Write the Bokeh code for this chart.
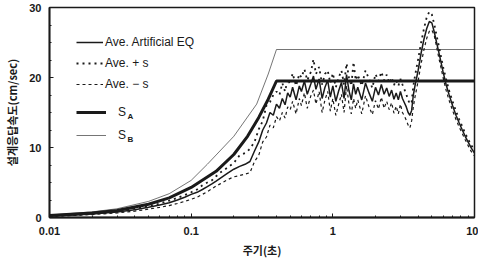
from bokeh.plotting import figure
from bokeh.models import Legend, LegendItem, Label, FixedTicker, Range1d
from bokeh.embed import file_html
from bokeh.resources import INLINE

# ---- design spectra (period s, velocity cm/sec) ----
sa_period = [0.01, 0.02, 0.03, 0.05, 0.07, 0.1, 0.15, 0.2, 0.25, 0.3, 0.35, 0.4, 10.0]
sa_value = [0.3, 0.65, 1.0, 1.9, 2.8, 4.3, 6.6, 9.0, 11.6, 14.3, 16.9, 19.5, 19.5]
sb_period = [0.01, 0.02, 0.03, 0.05, 0.07, 0.1, 0.13, 0.2, 0.29, 0.35, 0.4, 10.0]
sb_value = [0.35, 0.8, 1.25, 2.3, 3.4, 5.3, 7.6, 11.6, 16.2, 20.5, 24.0, 24.0]

# ---- average of artificial EQ and +/- s: rising part ----
period_rise = [0.01, 0.015, 0.02, 0.03, 0.04, 0.05, 0.06, 0.07, 0.08, 0.09,
               0.1, 0.11, 0.12, 0.13, 0.14, 0.15, 0.16, 0.18, 0.2, 0.22,
               0.24, 0.26, 0.28, 0.3, 0.32, 0.34, 0.36, 0.38]
ave_rise = [0.2, 0.35, 0.5, 0.8, 1.1, 1.45, 1.8, 2.1, 2.5, 2.9,
            3.3, 3.6, 4.0, 4.4, 4.8, 5.2, 5.6, 6.3, 6.9, 7.3,
            7.6, 8.0, 9.5, 10.8, 12.5, 13.5, 15.0, 14.6]
plus_rise = [0.2, 0.37, 0.55, 0.9, 1.25, 1.6, 2.0, 2.4, 2.8, 3.2,
             3.6, 4.0, 4.6, 5.0, 5.3, 5.9, 6.4, 7.1, 7.8, 8.9,
             9.2, 9.8, 10.8, 12.6, 13.8, 16.0, 16.5, 17.5]
minus_rise = [0.18, 0.3, 0.42, 0.65, 0.9, 1.2, 1.45, 1.7, 2.0, 2.3,
              2.6, 2.9, 3.3, 3.7, 4.1, 4.5, 4.8, 5.4, 5.8, 6.0,
              6.2, 6.4, 8.0, 8.9, 10.8, 11.5, 13.2, 12.8]

# ---- plateau band ----
period_band = [0.4, 0.42, 0.44, 0.46, 0.48,
               0.5, 0.52, 0.55, 0.58, 0.6,
               0.63, 0.66, 0.7, 0.73, 0.76,
               0.8, 0.84, 0.88, 0.92, 0.96,
               1.0, 1.05, 1.1, 1.15, 1.2,
               1.25, 1.3, 1.35, 1.4, 1.45,
               1.5, 1.6, 1.7, 1.8, 1.9,
               2.0, 2.1, 2.2, 2.3, 2.4,
               2.5, 2.6, 2.7, 2.8, 2.9,
               3.0, 3.1, 3.2, 3.3, 3.4,
               3.5]
ave_band = [16.2, 15.6, 17.0, 16.1, 17.8,
            17.2, 18.6, 16.8, 18.8, 18.0,
            19.5, 17.6, 19.1, 20.2, 18.3,
            19.8, 17.0, 18.6, 19.6, 17.2,
            18.8, 16.6, 18.1, 19.3, 17.0,
            20.4, 18.1, 16.8, 19.1, 17.6,
            18.6, 16.8, 19.2, 17.8, 16.6,
            18.6, 17.5, 19.0, 17.6, 18.5,
            17.3, 18.2, 16.9, 17.8, 16.8,
            18.0, 17.0, 16.4, 15.8, 15.0,
            14.6]
plus_band = [18.0, 17.5, 19.2, 18.0, 19.8,
             19.0, 20.6, 18.8, 20.5, 20.0,
             21.2, 19.6, 20.8, 22.6, 20.5,
             21.5, 19.0, 20.5, 21.0, 19.2,
             20.6, 18.6, 20.0, 21.0, 19.0,
             22.0, 20.0, 18.8, 22.2, 19.6,
             20.4, 18.8, 21.0, 19.8, 18.5,
             20.5, 19.5, 20.8, 19.6, 20.4,
             19.2, 20.0, 18.9, 19.6, 18.8,
             19.8, 19.0, 18.3, 17.6, 16.8,
             16.2]
minus_band = [14.4, 13.8, 15.0, 14.2, 15.8,
              15.4, 16.6, 14.8, 17.0, 16.0,
              17.8, 15.6, 17.4, 18.2, 16.2,
              18.0, 15.0, 16.8, 18.0, 15.2,
              17.0, 14.6, 16.2, 17.6, 15.0,
              18.8, 16.2, 14.8, 17.0, 15.6,
              16.8, 14.8, 17.4, 15.8, 14.7,
              16.7, 15.5, 17.2, 15.6, 16.6,
              15.4, 16.4, 14.9, 15.9, 14.8,
              16.2, 15.0, 14.5, 13.9, 13.2,
              12.8]

# ---- long-period peak ----
period_peak = [3.6, 3.7, 3.8, 4.0, 4.2, 4.4, 4.6, 4.8, 5.0, 5.2, 5.4, 5.6,
               5.8, 6.0, 6.3, 6.6, 7.0, 7.4, 7.8, 8.2, 8.6, 9.0, 9.5, 10.0]
ave_peak = [15.3, 17.5, 18.8, 21.0, 23.5, 25.5, 27.0, 28.0, 27.8, 26.5, 25.0, 23.6,
            22.2, 20.8, 19.0, 17.6, 16.0, 14.6, 13.5, 12.5, 11.6, 10.8, 9.9, 9.2]
plus_peak = [16.5, 18.8, 20.2, 22.6, 25.0, 27.0, 28.6, 29.4, 29.0, 27.6, 26.0, 24.5,
             23.0, 21.5, 19.8, 18.2, 16.6, 15.2, 14.0, 13.0, 12.0, 11.2, 10.3, 9.6]
minus_peak = [13.8, 15.8, 17.2, 19.5, 22.0, 24.0, 25.6, 26.6, 26.8, 26.0, 24.4, 22.8,
              21.4, 20.0, 18.2, 16.8, 15.3, 14.0, 12.9, 12.0, 11.1, 10.3, 9.4, 8.8]

x_ticks = [0.01, 0.1, 1, 10]
x_tick_labels = ["0.01", "0.1", "1", "10"]
y_ticks = [0, 10, 20, 30]

period = period_rise + period_band + period_peak
ave = ave_rise + ave_band + ave_peak
plus = plus_rise + plus_band + plus_peak
minus = minus_rise + minus_band + minus_peak

INK = "#1a1a1a"
FONT = "Liberation Sans"
KFONT = "Noto Sans CJK KR"

p = figure(width=478, height=261, x_axis_type="log",
           x_range=Range1d(0.01, 10), y_range=Range1d(0, 30),
           output_backend="svg", toolbar_location=None,
           min_border_left=49, min_border_right=4,
           min_border_top=7, min_border_bottom=44)
p.background_fill_color = "white"
p.border_fill_color = "white"
p.grid.visible = False
p.outline_line_color = INK
p.outline_line_width = 1.5

r_sb = p.line(sb_period, sb_value, line_color="#3a3a3a", line_width=0.7)
r_minus = p.line(period, minus, line_color=INK, line_width=1.2, line_dash="3 3")
r_plus = p.line(period, plus, line_color=INK, line_width=1.8, line_dash="2 4")
r_ave = p.line(period, ave, line_color=INK, line_width=1.5)
r_sa = p.line(sa_period, sa_value, line_color=INK, line_width=3)

minor_x = [m * d for d in (0.01, 0.1, 1) for m in range(2, 10)]
p.xaxis.ticker = FixedTicker(ticks=x_ticks, minor_ticks=minor_x)
p.xaxis.major_label_overrides = {t: s for t, s in zip(x_ticks, x_tick_labels)}
p.yaxis.ticker = FixedTicker(ticks=y_ticks, minor_ticks=[2.5 * i for i in range(13)])

for ax in (p.xaxis, p.yaxis):
    ax.axis_line_color = INK
    ax.axis_line_width = 1.8
    ax.major_tick_in = 4
    ax.major_tick_out = 0
    ax.minor_tick_in = 2
    ax.minor_tick_out = 0
    ax.major_tick_line_color = INK
    ax.minor_tick_line_color = INK
    ax.major_label_text_font = FONT
    ax.major_label_text_font_size = "11px"
    ax.major_label_text_font_style = "bold"
    ax.major_label_text_color = INK
    ax.axis_label_text_font = KFONT
    ax.axis_label_text_font_size = "11px"
    ax.axis_label_text_font_style = "bold"
    ax.axis_label_text_color = INK

p.xaxis.axis_label = "주기(초)"
p.xaxis.major_label_standoff = 9
p.xaxis.axis_label_standoff = 4
p.yaxis.axis_label = "설계응답속도(cm/sec)"
p.yaxis.major_label_standoff = 8
p.yaxis.axis_label_standoff = 6

common = dict(border_line_alpha=0, background_fill_alpha=0,
              label_text_font=FONT, label_text_font_size="12px", label_text_color=INK,
              padding=5, margin=0)
leg1 = Legend(items=[LegendItem(label="Ave. Artificial EQ", renderers=[r_ave]),
                     LegendItem(label="Ave. + s", renderers=[r_plus]),
                     LegendItem(label="Ave. − s", renderers=[r_minus])],
              location=(22, 119), label_standoff=2, glyph_width=27,
              label_height=18, glyph_height=18, spacing=3, **common)
leg2 = Legend(items=[LegendItem(label="S", renderers=[r_sa]),
                     LegendItem(label="S", renderers=[r_sb])],
              location=(22, 67), label_standoff=12, glyph_width=30,
              label_height=20, glyph_height=20, spacing=3, **common)
p.add_layout(leg1)
p.add_layout(leg2)
for sub, yy in (("A", 101), ("B", 78)):
    p.add_layout(Label(x=78, y=yy, x_units="screen", y_units="screen", text=sub,
                       text_font=FONT, text_font_size="8px", text_color=INK,
                       text_font_style="bold", text_baseline="middle"))

open("out.html", "w").write(file_html(p, INLINE))
